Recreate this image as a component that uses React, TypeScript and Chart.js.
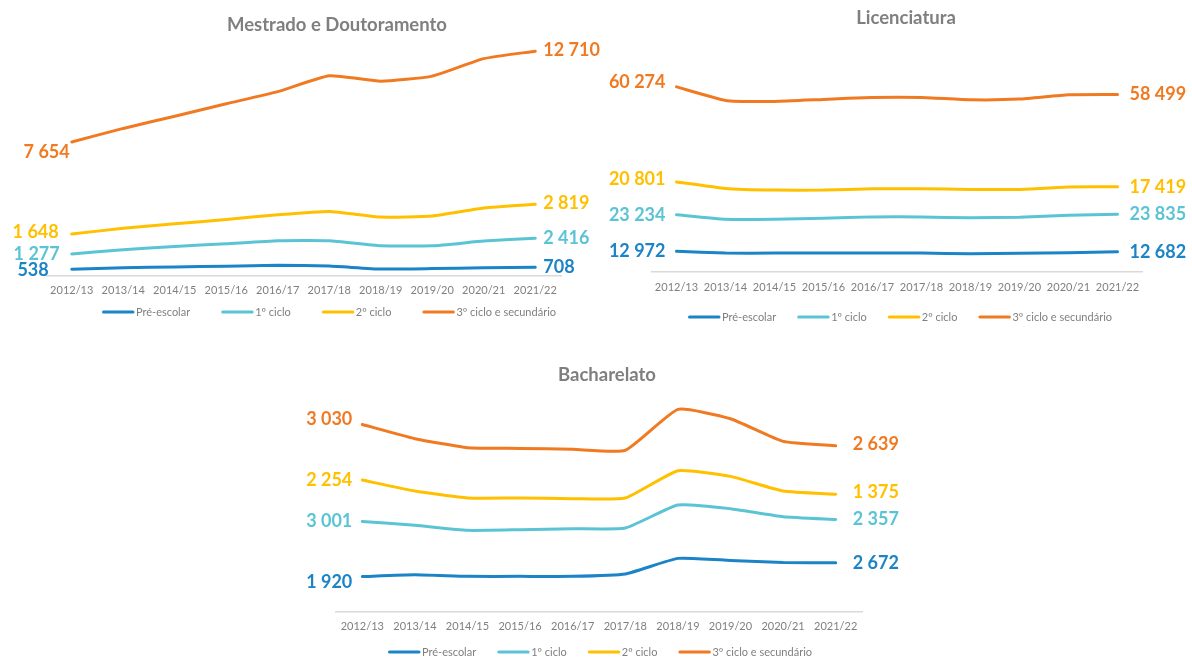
import React, { useEffect, useRef } from 'react';
import { Chart, registerables } from 'chart.js';

Chart.register(...registerables);

// ---------- Data ----------
const years = ['2012/13', '2013/14', '2014/15', '2015/16', '2016/17', '2017/18', '2018/19', '2019/20', '2020/21', '2021/22'];
const seriesNames = ['Pré-escolar', '1º ciclo', '2º ciclo', '3º ciclo e secundário'];
const seriesColors = ['#1B84C6', '#5BC4D4', '#FFC000', '#F07A22'];

// Mestrado e Doutoramento
const mdPre = [538, 660, 740, 800, 880, 810, 560, 600, 670, 708];
const md1 = [1277, 1497, 1697, 1861, 2033, 2103, 1933, 1893, 2215, 2416];
const md2 = [1648, 1793, 1877, 2017, 2157, 2437, 2381, 2465, 2745, 2819];
const md3 = [7654, 8291, 8935, 9608, 10224, 11261, 11288, 11625, 12409, 12710];

// Licenciatura
const liPre = [12972, 11900, 11850, 11850, 11850, 11850, 11400, 11800, 12150, 12682];
const li1 = [23234, 21468, 21518, 22148, 22987, 22987, 22808, 22827, 23737, 23835];
const li2 = [20801, 19518, 18468, 17838, 17839, 17839, 18048, 17629, 17838, 17419];
const li3 = [60274, 55823, 56244, 57503, 57922, 57922, 56873, 57293, 58552, 58499];

// Bacharelato
const baPre = [1920, 2020, 1930, 1930, 1930, 2060, 2910, 2800, 2680, 2672];
const ba1 = [3001, 2690, 2507, 2544, 2598, 2504, 2907, 2817, 2501, 2357];
const ba2 = [2254, 1869, 1761, 1724, 1634, 1634, 1869, 1760, 1398, 1375];
const ba3 = [3030, 2849, 2740, 2704, 2686, 2595, 3339, 3140, 2704, 2639];

// ---------- Layout / style ----------
type Panel = {
  title: string;
  series: number[][];
  yMax: number;
  box: { left: number; top: number; width: number; height: number };
  pad: { left: number; right: number; top: number; bottom: number };
  titleX: number; // absolute page coords
  titleY: number;
  tickPad: number;
  legendY: number; // absolute page coords
  legendCenter: number;
  legendGap: number;
  gapL: number;
  gapR: number;
  nudgeLX: number[];
  nudgeL: number[];
  nudgeR: number[];
};

const panels: Panel[] = [
  {
    title: 'Mestrado e Doutoramento',
    series: [mdPre, md1, md2, md3],
    yMax: 20000,
    box: { left: 0, top: 0, width: 600, height: 330 },
    pad: { left: 46, right: 39, top: 35, bottom: 25 },
    titleX: 337,
    titleY: 25,
    tickPad: 8,
    legendY: 312,
    legendCenter: 329,
    legendGap: 31,
    gapL: 9,
    gapR: 8,
    nudgeLX: [-14, -3, -4, 7],
    nudgeL: [1, 0, -2, 10],
    nudgeR: [0, 0, -1, -1],
  },
  {
    title: 'Licenciatura',
    series: [liPre, li1, li2, li3],
    yMax: 154000,
    box: { left: 600, top: 0, width: 592, height: 330 },
    pad: { left: 52, right: 50, top: 29, bottom: 27 },
    titleX: 906,
    titleY: 18,
    tickPad: 9,
    legendY: 317,
    legendCenter: 900,
    legendGap: 21,
    gapL: 11,
    gapR: 12,
    nudgeLX: [0, 0, 0, 0],
    nudgeL: [0, 0, -3, -5],
    nudgeR: [0, 0, 0, 0],
  },
  {
    title: 'Bacharelato',
    series: [baPre, ba1, ba2, ba3],
    yMax: 12300,
    box: { left: 290, top: 350, width: 620, height: 310 },
    pad: { left: 46, right: 48, top: 36, bottom: 19 },
    titleX: 607,
    titleY: 375,
    tickPad: 8,
    legendY: 652,
    legendCenter: 600,
    legendGap: 21,
    gapL: 10,
    gapR: 17,
    nudgeLX: [0, 0, 0, 0],
    nudgeL: [6, 0, 0, -5],
    nudgeR: [0, 0, -2, -2],
  },
];

const FONT = 'Lato, "Open Sans", sans-serif';
const GREY = '#7f7f7f';

const fmt = (v: number) => String(v).replace(/\B(?=(\d{3})+(?!\d))/g, ' ');

const panelTitle = {
  id: 'panelTitle',
  afterDraw(chart: any, _args: any, opts: any) {
    const ctx = chart.ctx;
    ctx.save();
    ctx.font = `bold 18.5px ${FONT}`;
    ctx.fillStyle = GREY;
    ctx.textAlign = 'center';
    ctx.textBaseline = 'middle';
    ctx.fillText(opts.text, opts.x, opts.y);
    ctx.restore();
  },
};

const endLabels = {
  id: 'endLabels',
  afterDatasetsDraw(chart: any, _args: any, opts: any) {
    const ctx = chart.ctx;
    ctx.save();
    ctx.font = `bold 18px ${FONT}`;
    ctx.textBaseline = 'middle';
    chart.data.datasets.forEach((ds: any, i: number) => {
      const pts = chart.getDatasetMeta(i).data;
      if (!pts.length) return;
      const first = pts[0];
      const last = pts[pts.length - 1];
      ctx.fillStyle = ds.borderColor;
      ctx.textAlign = 'right';
      ctx.fillText(fmt(ds.data[0]), first.x - opts.gapL + (opts.nudgeLX[i] || 0), first.y + (opts.nudgeL[i] || 0));
      ctx.textAlign = 'left';
      ctx.fillText(fmt(ds.data[ds.data.length - 1]), last.x + opts.gapR, last.y + (opts.nudgeR[i] || 0));
    });
    ctx.restore();
  },
};

const lineLegend = {
  id: 'lineLegend',
  afterDraw(chart: any, _args: any, opts: any) {
    const ctx = chart.ctx;
    ctx.save();
    ctx.font = `11px ${FONT}`;
    const items = chart.data.datasets.map((ds: any) => ({
      text: ds.label,
      color: ds.borderColor,
      w: 34 + ctx.measureText(ds.label).width,
    }));
    const gap = opts.gap;
    const total = items.reduce((s: number, it: any) => s + it.w, 0) + gap * (items.length - 1);
    let x = opts.centerX - total / 2;
    const y = opts.y;
    items.forEach((it: any) => {
      ctx.strokeStyle = it.color;
      ctx.lineWidth = 3;
      ctx.lineCap = 'round';
      ctx.beginPath();
      ctx.moveTo(x + 1.5, y);
      ctx.lineTo(x + 31, y);
      ctx.stroke();
      ctx.fillStyle = GREY;
      ctx.textAlign = 'left';
      ctx.textBaseline = 'middle';
      ctx.fillText(it.text, x + 34, y);
      x += it.w + gap;
    });
    ctx.restore();
  },
};

function makeConfig(p: Panel): any {
  return {
    type: 'line',
    data: {
      labels: years,
      datasets: p.series.map((values, i) => ({
        label: seriesNames[i],
        data: values,
        borderColor: seriesColors[i],
        backgroundColor: seriesColors[i],
        fill: false,
      })),
    },
    options: {
      responsive: false,
      animation: false,
      layout: { padding: { left: p.pad.left, right: p.pad.right, top: p.pad.top, bottom: p.pad.bottom } },
      plugins: {
        legend: { display: false },
        tooltip: { enabled: false },
        title: { display: false },
        panelTitle: { text: p.title, x: p.titleX - p.box.left, y: p.titleY - p.box.top },
        endLabels: { gapL: p.gapL, gapR: p.gapR, nudgeLX: p.nudgeLX, nudgeL: p.nudgeL, nudgeR: p.nudgeR },
        lineLegend: { y: p.legendY - p.box.top, centerX: p.legendCenter - p.box.left, gap: p.legendGap },
      },
      scales: {
        x: {
          offset: true,
          grid: { display: false, drawTicks: false },
          border: { display: true, color: '#d9d9d9', width: 1.5 },
          ticks: {
            color: GREY,
            font: { family: FONT, size: 11 },
            padding: p.tickPad,
            maxRotation: 0,
            autoSkip: false,
          },
        },
        y: { display: false, stacked: true, min: 0, max: p.yMax },
      },
      elements: {
        point: { radius: 0, hoverRadius: 0 },
        line: { borderWidth: 3, tension: 0.15, borderCapStyle: 'round', borderJoinStyle: 'round' },
      },
    },
    plugins: [endLabels, lineLegend, panelTitle],
  };
}

function PanelChart({ panel }: { panel: Panel }) {
  const ref = useRef<HTMLCanvasElement | null>(null);
  useEffect(() => {
    if (!ref.current) return;
    const chart = new Chart(ref.current, makeConfig(panel));
    return () => chart.destroy();
  }, [panel]);
  const { left, top, width, height } = panel.box;
  return (
    <canvas
      ref={ref}
      width={width}
      height={height}
      style={{ position: 'absolute', left, top, width, height }}
    />
  );
}

export default function App() {
  return (
    <div style={{ position: 'absolute', left: 0, top: 0, width: 1192, height: 660, background: '#ffffff', overflow: 'hidden' }}>
      {panels.map((p) => (
        <PanelChart key={p.title} panel={p} />
      ))}
    </div>
  );
}
